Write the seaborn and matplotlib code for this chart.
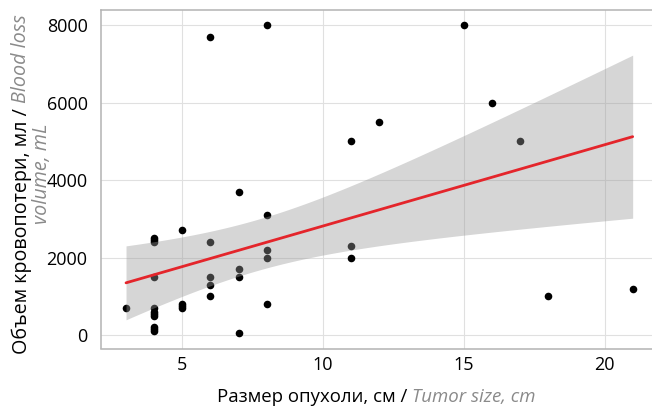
import numpy as np
import matplotlib
matplotlib.use("Agg")
import matplotlib.pyplot as plt
import seaborn as sns

# Tumor size (cm) and intraoperative blood loss (mL) per patient
tumor_size_cm = [3,
                 4, 4, 4, 4, 4, 4, 4, 4, 4, 4, 4,
                 5, 5, 5, 5,
                 6, 6, 6, 6, 6,
                 7, 7, 7, 7,
                 8, 8, 8, 8, 8,
                 11, 11, 11,
                 12, 15, 16, 17, 18, 21]
blood_loss_ml = [700,
                 2500, 2450, 2400, 1500, 700, 600, 550, 500, 200, 150, 100,
                 2700, 800, 750, 700,
                 7700, 2400, 1500, 1300, 1000,
                 3700, 1700, 1500, 50,
                 8000, 3100, 2200, 2000, 800,
                 5000, 2300, 2000,
                 5500, 8000, 6000, 5000, 1000, 1200]
x_ticks = [5, 10, 15, 20]
y_ticks = [0, 2000, 4000, 6000, 8000]

sns.set_theme(style="white")
plt.rcParams["font.family"] = ["Open Sans", "DejaVu Sans"]

W, H = 652, 409
fig = plt.figure(figsize=(W / 100, H / 100), dpi=100)
fig.patch.set_facecolor("white")


def fx(px):
    return px / W


def fy(py):
    return 1 - py / H


ax = fig.add_axes([fx(100.7), fy(348.5), (658 - 100.7) / W, (348.5 - 9.6) / H])
ax.set_facecolor("white")

x = np.asarray(tumor_size_cm, dtype=float)
y = np.asarray(blood_loss_ml, dtype=float)

# ordinary least squares fit with a 95% confidence band for the mean
n = len(x)
slope, intercept = np.polyfit(x, y, 1)
resid = y - (intercept + slope * x)
s_err = np.sqrt(resid @ resid / (n - 2))
x_mean = x.mean()
sxx = ((x - x_mean) ** 2).sum()
t_crit = 2.0262  # Student t, 0.975 quantile, 37 degrees of freedom
grid = np.linspace(x.min(), x.max(), 120)
fit = intercept + slope * grid
half = t_crit * s_err * np.sqrt(1 / n + (grid - x_mean) ** 2 / sxx)

sns.scatterplot(x=x, y=y, ax=ax, color="black", s=30, linewidth=0,
                zorder=2, legend=False)
ax.fill_between(grid, fit - half, fit + half, color="#999999", alpha=0.4,
                linewidth=0, zorder=3)
sns.regplot(x=x, y=y, ax=ax, scatter=False, ci=None, truncate=True,
            color="#e4252b", line_kws=dict(linewidth=2.0, zorder=4))

ax.set_xlim(2.1, 21.9)
ax.set_ylim(-347.5, 8397.5)
ax.set_xticks(x_ticks)
ax.set_yticks(y_ticks)
ax.set_xticklabels([str(v) for v in x_ticks])
ax.set_yticklabels([str(v) for v in y_ticks])
ax.set_xlabel("")
ax.set_ylabel("")

ax.grid(True, color="#e0e0e0", linewidth=0.8)
ax.set_axisbelow(True)
for sp in ax.spines.values():
    sp.set_color("#b3b3b3")
    sp.set_linewidth(1.1)
ax.spines["right"].set_visible(False)
ax.tick_params(axis="both", which="major", length=3, width=0.9,
               color="#b3b3b3", labelsize=13, labelcolor="black")
ax.tick_params(axis="y", pad=6.5)
ax.tick_params(axis="x", pad=2.4)

# axis titles: Russian part in black, English part in grey italic
renderer = fig.canvas.get_renderer()
grey = "#8a8a8a"


def space_px(size):
    return 0.27 * size * 100 / 72


def text_len(t, horizontal=True):
    bb = t.get_window_extent(renderer)
    return bb.width if horizontal else bb.height


# x axis title, centred under the panel
xsize = 13.4
pieces = [("Размер опухоли, см /", dict(color="black", style="normal")),
          ("Tumor size, cm", dict(color=grey, style="italic"))]
tmp = [fig.text(0, 0, s, fontsize=xsize, **kw) for s, kw in pieces]
widths = [text_len(t) for t in tmp]
for t in tmp:
    t.remove()
total = sum(widths) + space_px(xsize)
cx, base = 376, 402
start = cx - total / 2
for (s, kw), w in zip(pieces, widths):
    fig.text(fx(start), fy(base), s, fontsize=xsize, ha="left",
             va="baseline", **kw)
    start += w + space_px(xsize)

# y axis title, two lines running upward
ysize = 14.2
line1 = [("Объем кровопотери, мл /", dict(color="black", style="normal")),
         ("Blood loss", dict(color=grey, style="italic"))]
tmp = [fig.text(0, 0, s, fontsize=ysize, **kw) for s, kw in line1]
lens = [text_len(t) for t in tmp]
for t in tmp:
    t.remove()
total = sum(lens) + space_px(ysize)
cy = 184
pos = cy + total / 2
for (s, kw), L in zip(line1, lens):
    fig.text(fx(26.5), fy(pos), s, fontsize=ysize, rotation=90,
             rotation_mode="anchor", ha="left", va="baseline", **kw)
    pos -= L + space_px(ysize)

fig.text(fx(42), fy(174), "volume, mL", fontsize=ysize, rotation=90,
         ha="center", va="center", color=grey, style="italic")

fig.savefig("out.png", dpi=100, facecolor="white")
